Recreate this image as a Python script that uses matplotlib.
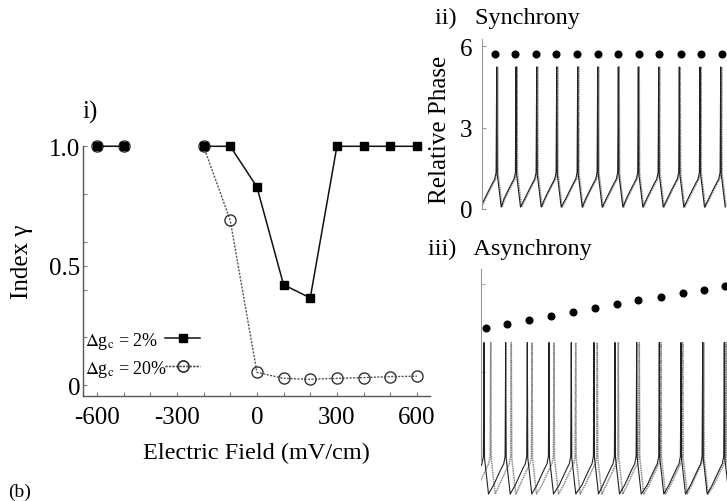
import numpy as np
import matplotlib
matplotlib.use('Agg')
import matplotlib.pyplot as plt
from matplotlib.lines import Line2D

plt.rcParams['font.family'] = ['Liberation Serif', 'DejaVu Serif']
plt.rcParams['mathtext.fontset'] = 'stix'

# panel i) index gamma vs electric field
field = [-600, -500, -400, -300, -200, -100, 0, 100, 200, 300, 400, 500, 600]
gamma_2 = [1.0, 1.0, np.nan, np.nan, 1.0, 1.0, 0.83, 0.42, 0.365, 1.0, 1.0, 1.0, 1.0]
gamma_20 = [1.0, 1.0, np.nan, np.nan, 1.0, 0.69, 0.053, 0.028, 0.024, 0.028, 0.031, 0.035, 0.037]
x_ticks = [-600, -300, 0, 300, 600]
x_ticklabels = ['-600', '-300', '0', '300', '600']
y_ticks = [0, 0.5, 1.0]
y_ticklabels = ['0', '0.5', '1.0']
series_labels = [r'$\Delta$g$_\mathrm{c}$ = 2%', r'$\Delta$g$_\mathrm{c}$ = 20%']

# panel ii) synchrony (time in arbitrary units)
sync_spk_a = [14.7, 34, 54.7, 74.7, 95.7, 115.7, 136.3, 156.3, 176.7, 197.3, 218, 238.7]
sync_spk_b = [15.6, 35, 55.6, 75.6, 96.6, 116.6, 137.2, 157.2, 177.6, 198.2, 218.9, 239.6]
sync_dot_t = [13, 33, 54, 74, 95, 116, 136, 157, 177, 199, 219, 240]
sync_dot_phase = [5.72] * 12

# panel iii) asynchrony
async_spk_a = [3, 24.7, 46.3, 68, 90.3, 113, 134, 155.7, 178.3, 200, 221.7, 243.3]
async_spk_b = [9.7, 30.3, 51, 73, 94.7, 116.3, 137.3, 158.3, 180, 201.7, 222.7, 245]
async_dot_t = [5, 26, 48, 70, 92, 114, 136, 157, 180, 202, 223, 244]
async_dot_phase = [4.51, 4.64, 4.78, 4.91, 5.05, 5.19, 5.32, 5.46, 5.56, 5.70, 5.80, 5.94]

# one spike cycle (time from spike, value)
wave_dt = [-12, -8, -4, -2, -0.6, 0, 0.5, 4.5]
wave_v = [0.38, 0.68, 0.97, 1.1, 1.35, 5.24, 1.3, 0.07]


def build_trace(spikes, offset):
    t = [spikes[0] - 16]
    v = [wave_v[-1] + offset]
    for s in spikes:
        t.extend(s + d for d in wave_dt)
        v.extend(x + offset for x in wave_v)
    return t, v


def draw_traces(ax, spk_a, spk_b, offset):
    ta, va = build_trace(spk_a, offset)
    tb, vb = build_trace(spk_b, offset)
    ax.plot(tb, vb, color='#8a8a8a', lw=1.1, ls=(0, (1, 0.5)))
    ax.plot(ta, va, color='#222222', lw=0.8)


fig = plt.figure(figsize=(7.27, 5.02), dpi=100)
W, H = 727, 502

# main panel
ax = fig.add_axes([83 / W, 1 - 397 / H, 347 / W, (397 - 147.3) / H])
style_20 = dict(color='#555555', lw=1.0, ls=(0, (1.5, 1)), marker='o', ms=8,
                mfc='none', mec='#333333', mew=1.0)
style_2 = dict(color='#111111', lw=1.1, marker='s', ms=5.5, mfc='black', mec='black')
ax.plot(field, gamma_20, clip_on=False, zorder=3, **style_20)
ax.plot(field, gamma_2, clip_on=False, zorder=4, **style_2)
ax.set_xlim(-652, 649)
ax.set_ylim(-0.046, 1.0)
ax.set_xticks(x_ticks)
ax.set_xticklabels(x_ticklabels)
ax.set_xticks(range(-600, 601, 100), minor=True)
ax.set_yticks(y_ticks)
ax.set_yticklabels(y_ticklabels)
ax.set_yticks([0, 0.2, 0.4, 0.6, 0.8, 1.0], minor=True)
for s in ['top', 'right']:
    ax.spines[s].set_visible(False)
for s in ['left', 'bottom']:
    ax.spines[s].set_color('#555555')
    ax.spines[s].set_linewidth(1.0)
ax.tick_params(which='both', direction='in', length=3, width=0.8, color='#777777')
ax.tick_params(axis='x', labelsize=18, pad=7)
ax.tick_params(axis='y', labelsize=18, pad=2)

# legend: text on the left, handles lined up on the right
row_y = [0.224, 0.112]
for lab, st, yy in zip(series_labels, [style_2, style_20], row_y):
    ax.text(0.006, yy, lab, transform=ax.transAxes, fontsize=13, ha='left', va='center')
    leg = ax.legend([Line2D([], [], **st)], [''], loc='center', bbox_to_anchor=(0.288, yy),
                    frameon=False, fontsize=14, handlelength=1.8, handletextpad=0,
                    borderaxespad=0, borderpad=0)
    ax.add_artist(leg)

ax.set_xlabel('Electric Field (mV/cm)', fontsize=17.5, labelpad=10)
fig.text(0.030, 0.478, 'Index γ', rotation=90, fontsize=18, ha='center', va='center')
fig.text(82 / W, 1 - 112 / H, 'i)', fontsize=18, ha='left', va='center')
fig.text(8 / W, 1 - 492 / H, '(b)', fontsize=14, ha='left', va='center')

# synchrony panel
ax2 = fig.add_axes([482 / W, 1 - 210 / H, 245 / W, 170 / H])
draw_traces(ax2, sync_spk_a, sync_spk_b, 0.0)
ax2.plot(sync_dot_t, sync_dot_phase, 'o', color='black', ms=4.8, clip_on=False)
ax2.set_xlim(0, 245)
ax2.set_ylim(0, 6.27)
ax2.set_yticks([0, 3, 6])
ax2.set_xticks([])
for s in ['top', 'right', 'bottom']:
    ax2.spines[s].set_visible(False)
ax2.spines['left'].set_color('#999999')
ax2.tick_params(direction='in', length=3, width=0.8, color='#999999', labelsize=18, pad=7)
fig.text(440 / W, 1 - 130 / H, 'Relative Phase', rotation=90, fontsize=18,
         ha='center', va='center')
fig.text(435 / W, 1 - 18 / H, 'ii)   Synchrony', fontsize=17.5, ha='left', va='center')

# asynchrony panel
ax3 = fig.add_axes([481 / W, 1 - 500 / H, 246 / W, 230 / H])
draw_traces(ax3, async_spk_a, async_spk_b, -1.23)
ax3.plot(async_dot_t, async_dot_phase, 'o', color='black', ms=4.8, clip_on=False)
ax3.set_xlim(0, 246)
ax3.set_ylim(-1.33, 6.52)
ax3.set_yticks([3, 6])
ax3.set_yticklabels([])
ax3.set_xticks([])
for s in ['top', 'right', 'bottom']:
    ax3.spines[s].set_visible(False)
ax3.spines['left'].set_color('#999999')
ax3.spines['left'].set_bounds(0, 6.52)
ax3.tick_params(direction='in', length=3, width=0.8, color='#aaaaaa')
fig.text(428 / W, 1 - 249 / H, 'iii)   Asynchrony', fontsize=17.5, ha='left', va='center')

fig.savefig('out.png', dpi=100)
